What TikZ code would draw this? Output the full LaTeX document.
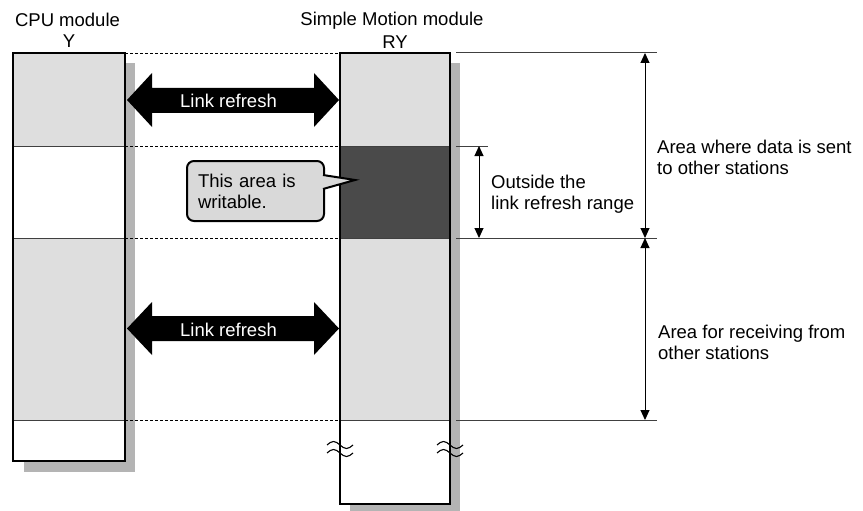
\documentclass[tikz,border=0pt]{standalone}
\usepackage{fontspec}
\setmainfont{Liberation Sans}
\usetikzlibrary{arrows.meta}
\definecolor{lgray}{HTML}{DEDEDE}
\definecolor{dgray}{HTML}{4A4A4A}
\definecolor{shgray}{HTML}{B4B4B4}
\definecolor{callfill}{HTML}{D9D9D9}
\definecolor{divgray}{HTML}{404040}
\begin{document}
\begin{tikzpicture}[x=1pt,y=-1pt,
  font=\fontsize{18.5}{21}\selectfont,
  boxshadow/.style={fill=shgray},
  modframe/.style={draw=black,line width=2pt,minimum width=#1,outer sep=0pt,inner sep=0pt,anchor=north west},
  divline/.style={draw=divgray,line width=0.9pt},
  guideline/.style={draw=black,line width=0.8pt,dash pattern=on 3pt off 2pt},
  dimline/.style={draw=divgray,line width=1pt},
  dimarrow/.style={draw=black,line width=1pt,{Triangle[width=9pt,length=10pt]}-{Triangle[width=9pt,length=10pt]}},
  fatarrow/.style={fill=black},
  arrowtext/.style={text=white,anchor=base,inner sep=0pt},
  plain/.style={anchor=base,inner sep=0pt},
  sidetext/.style={align=left,anchor=base west,inner sep=0pt},
  callout/.style={draw=black,line width=2pt,fill=callfill,rounded corners=7pt,minimum width=137pt,minimum height=60pt,text width=115pt,align=left,inner xsep=11pt,inner ysep=0pt,outer sep=0pt},
  breakmark/.style={draw=black,line width=1.1pt}]
\useasboundingbox (0,0) rectangle (863,511);
% shadows
\fill[boxshadow] (24,63) rectangle (135,472);
\fill[boxshadow] (350,63) rectangle (460,511);
% section fills
\fill[lgray] (13,53) rectangle (125,146);
\fill[white] (13,146) rectangle (125,238);
\fill[lgray] (13,238) rectangle (125,420);
\fill[white] (13,420) rectangle (125,461);
\fill[lgray] (340,53) rectangle (450,146);
\fill[dgray] (340,146) rectangle (450,238);
\fill[lgray] (340,238) rectangle (450,420);
\fill[white] (340,420) rectangle (450,504);
% division lines
\foreach \yy in {146,238,420} {
  \draw[divline] (13,\yy) -- (125,\yy);
  \draw[divline] (340,\yy) -- (450,\yy);
}
% frames
\node[modframe=112pt,minimum height=408pt] (cpu) at (13,53) {};
\node[modframe=110pt,minimum height=451pt] (sm) at (340,53) {};
% guide lines between modules
\draw[guideline] (cpu.north east) -- (sm.north west);
\foreach \yy in {146,238,420} {
  \draw[guideline] (125,\yy) -- (340,\yy);
}
% right side reference lines
\draw[dimline] (456,53) -- (657,53);
\draw[dimline] (456,146) -- (488,146);
\draw[dimline] (456,238) -- (657,238);
\draw[dimline] (456,420) -- (657,420);
% dimension arrows
\coordinate (a1) at (645,53);
\coordinate (a2) at (645,238);
\coordinate (a3) at (645,420);
\coordinate (b1) at (479,146);
\coordinate (b2) at (479,238);
\draw[dimarrow] (a1) -- (a2);
\draw[dimarrow] (a2) -- (a3);
\draw[dimarrow] (b1) -- (b2);
% link refresh arrows
\fill[fatarrow] (127,100) -- (152,73) -- (152,88) -- (314,88) -- (314,73) -- (339,100) -- (314,127) -- (314,113) -- (152,113) -- (152,127) -- cycle;
\node[arrowtext] (lr1) at (228.5,107) {Link refresh};
\fill[fatarrow] (127,328.5) -- (152,302) -- (152,316) -- (314,316) -- (314,302) -- (339,328.5) -- (314,355) -- (314,341) -- (152,341) -- (152,355) -- cycle;
\node[arrowtext] (lr2) at (228.5,336) {Link refresh};
% callout
\node[callout] (note) at (255.5,191) {This area is\\writable.};
\filldraw[fill=callfill,draw=black,line width=2pt,line join=miter] (323,175) -- (355,180) -- (323,189);
% break marks
\foreach \xx in {340,450} {
  \draw[breakmark] (\xx-13,445) sin (\xx-6.5,441.5) cos (\xx,445) sin (\xx+6.5,448.5) cos (\xx+13,445);
  \draw[breakmark] (\xx-13,453) sin (\xx-6.5,449.5) cos (\xx,453) sin (\xx+6.5,456.5) cos (\xx+13,453);
}
% labels
\node[plain] (cpulabel) at (67.5,27) {CPU module};
\node[plain] (ylabel) at (69,48) {Y};
\node[plain] (smlabel) at (392,26) {Simple Motion module};
\node[plain] (rylabel) at (395,49) {RY};
\node[sidetext] (sent) at (657,175) {Area where data is sent\\to other stations};
\node[sidetext] (outside) at (491,209) {Outside the\\link refresh range};
\node[sidetext] (recv) at (658,359) {Area for receiving from\\other stations};
\end{tikzpicture}
\end{document}
